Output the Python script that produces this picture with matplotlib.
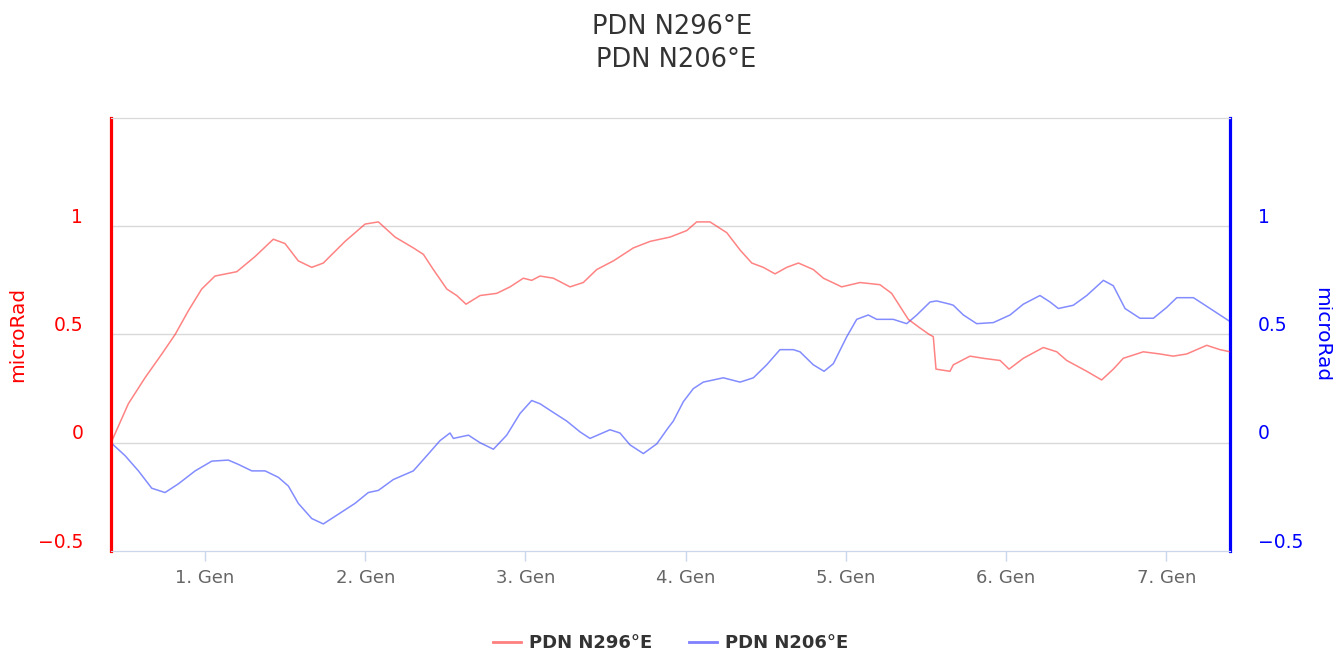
import matplotlib
matplotlib.use("Agg")
import matplotlib.pyplot as plt
from matplotlib.transforms import ScaledTranslation

# days since 31 Dec 00:00 (1.0 = "1. Gen")
red_x = [0.413, 0.521, 0.625, 0.730, 0.813, 0.896, 0.979, 1.062, 1.198, 1.312,
         1.426, 1.499, 1.582, 1.666, 1.738, 1.874, 1.999, 2.082, 2.186, 2.300,
         2.363, 2.425, 2.509, 2.571, 2.629, 2.717, 2.821, 2.904, 2.987, 3.039,
         3.091, 3.174, 3.278, 3.361, 3.445, 3.549, 3.674, 3.778, 3.903, 4.007,
         4.069, 4.152, 4.257, 4.340, 4.413, 4.485, 4.558, 4.631, 4.704, 4.797,
         4.860, 4.974, 5.089, 5.213, 5.286, 5.338, 5.390, 5.463, 5.521, 5.546,
         5.563, 5.650, 5.671, 5.775, 5.858, 5.963, 6.019, 6.108, 6.233, 6.317,
         6.379, 6.504, 6.597, 6.670, 6.732, 6.857, 6.961, 7.044, 7.128, 7.253,
         7.336, 7.398]
red_y = [0.00, 0.18, 0.30, 0.41, 0.50, 0.61, 0.71, 0.77, 0.79, 0.86,
         0.94, 0.92, 0.84, 0.81, 0.83, 0.93, 1.01, 1.02, 0.95, 0.90,
         0.87, 0.80, 0.71, 0.68, 0.64, 0.68, 0.69, 0.72, 0.76, 0.75,
         0.77, 0.76, 0.72, 0.74, 0.80, 0.84, 0.90, 0.93, 0.95, 0.98,
         1.02, 1.02, 0.97, 0.89, 0.83, 0.81, 0.78, 0.81, 0.83, 0.80,
         0.76, 0.72, 0.74, 0.73, 0.69, 0.63, 0.57, 0.53, 0.50, 0.49,
         0.34, 0.33, 0.36, 0.40, 0.39, 0.38, 0.34, 0.39, 0.44, 0.42,
         0.38, 0.33, 0.29, 0.34, 0.39, 0.42, 0.41, 0.40, 0.41, 0.45,
         0.43, 0.42]

blue_x = [0.413, 0.501, 0.584, 0.667, 0.750, 0.833, 0.938, 1.042, 1.145, 1.208,
          1.292, 1.375, 1.458, 1.520, 1.582, 1.666, 1.738, 1.832, 1.936, 2.019,
          2.082, 2.175, 2.300, 2.384, 2.467, 2.529, 2.550, 2.644, 2.717, 2.800,
          2.883, 2.966, 3.039, 3.091, 3.174, 3.258, 3.341, 3.403, 3.528, 3.590,
          3.653, 3.736, 3.820, 3.892, 3.923, 3.986, 4.048, 4.110, 4.173, 4.235,
          4.340, 4.423, 4.506, 4.589, 4.672, 4.714, 4.797, 4.864, 4.922, 5.006,
          5.068, 5.140, 5.193, 5.296, 5.380, 5.443, 5.526, 5.567, 5.650, 5.671,
          5.734, 5.817, 5.921, 6.025, 6.108, 6.212, 6.275, 6.327, 6.420, 6.504,
          6.608, 6.670, 6.743, 6.836, 6.920, 7.003, 7.066, 7.170, 7.274, 7.398]
blue_y = [0.00, -0.06, -0.13, -0.21, -0.23, -0.19, -0.13, -0.085, -0.08, -0.10,
          -0.13, -0.13, -0.16, -0.20, -0.28, -0.35, -0.375, -0.33, -0.28, -0.23,
          -0.22, -0.17, -0.13, -0.06, 0.01, 0.045, 0.02, 0.035, 0.00, -0.03,
          0.035, 0.135, 0.195, 0.18, 0.14, 0.10, 0.05, 0.02, 0.06, 0.045,
          -0.01, -0.05, -0.005, 0.07, 0.10, 0.19, 0.25, 0.28, 0.29, 0.30,
          0.28, 0.30, 0.36, 0.43, 0.43, 0.42, 0.36, 0.33, 0.365, 0.49,
          0.57, 0.59, 0.57, 0.57, 0.55, 0.59, 0.65, 0.655, 0.64, 0.635,
          0.59, 0.55, 0.555, 0.59, 0.64, 0.68, 0.65, 0.62, 0.635, 0.68,
          0.75, 0.725, 0.62, 0.575, 0.575, 0.625, 0.67, 0.67, 0.62, 0.56]

day_ticks = [1, 2, 3, 4, 5, 6, 7]
day_labels = ["1. Gen", "2. Gen", "3. Gen", "4. Gen", "5. Gen", "6. Gen", "7. Gen"]
y_ticks = [-0.5, 0, 0.5, 1]
y_labels = ["\u22120.5", "0", "0.5", "1"]

fig = plt.figure(figsize=(13.33, 6.5), dpi=100)
ax = fig.add_axes([0.0833, 0.1523, 0.8394, 0.6662])
ax2 = ax.twinx()

ax.plot(red_x, red_y, color="#ff3030", alpha=0.6, lw=1.1)
ax2.plot(blue_x, blue_y, color="#3040ff", alpha=0.6, lw=1.1)

for a in (ax, ax2):
    a.set_xlim(0.413, 7.398)
    a.set_ylim(-0.5, 1.5)
    a.set_yticks(y_ticks)

ax.set_zorder(ax2.get_zorder() + 1)
ax.patch.set_visible(False)
ax.set_yticklabels(y_labels)
ax2.set_yticklabels(y_labels)

grid_c = "#d9d9d9"
for v in [0, 0.5, 1]:
    ax2.axhline(v, color=grid_c, lw=1, zorder=0)

ax.set_xticks(day_ticks)
ax.set_xticklabels(day_labels)
ax.tick_params(axis="x", length=7, width=1, color="#ccd6eb", labelcolor="#666666",
               labelsize=13, pad=6)
ax.tick_params(axis="y", length=0, labelcolor="#ff0000", labelsize=13.5, pad=20)
ax2.tick_params(axis="y", length=0, labelcolor="#0000ff", labelsize=13.5, pad=20)

up = ScaledTranslation(0, 11 / 100, fig.dpi_scale_trans)
for lab in ax.get_yticklabels() + ax2.get_yticklabels():
    lab.set_transform(lab.get_transform() + up)

for a in (ax, ax2):
    a.spines["top"].set_color(grid_c)
    a.spines["bottom"].set_color("#ccd6eb")
ax.spines["left"].set_color("#ff0000")
ax.spines["left"].set_linewidth(2.3)
ax.spines["right"].set_visible(False)
ax2.spines["right"].set_color("#0000ff")
ax2.spines["right"].set_linewidth(2.3)
ax2.spines["left"].set_visible(False)

# axis titles
fig.text(0.0135, 0.485, "microRad", color="#ff0000", fontsize=14.5,
         rotation=90, ha="center", va="center")
fig.text(0.9915, 0.485, "microRad", color="#0000ff", fontsize=14.5,
         rotation=270, ha="center", va="center")

fig.text(0.504, 0.958, "PDN N296°E", ha="center", va="center",
         fontsize=18.5, color="#333333")
fig.text(0.507, 0.908, "PDN N206°E", ha="center", va="center",
         fontsize=18.5, color="#333333")

h1, = ax.plot([], [], color="#ff7f7f", lw=2)
h2, = ax.plot([], [], color="#7f7fff", lw=2)
fig.legend([h1, h2], ["PDN N296°E", "PDN N206°E"], loc="center",
           bbox_to_anchor=(0.503, 0.011), ncol=2, frameon=False,
           prop={"weight": "bold", "size": 13}, labelcolor="#333333",
           handlelength=1.55, handletextpad=0.45, columnspacing=2.0)

fig.savefig("out.png", dpi=100)
